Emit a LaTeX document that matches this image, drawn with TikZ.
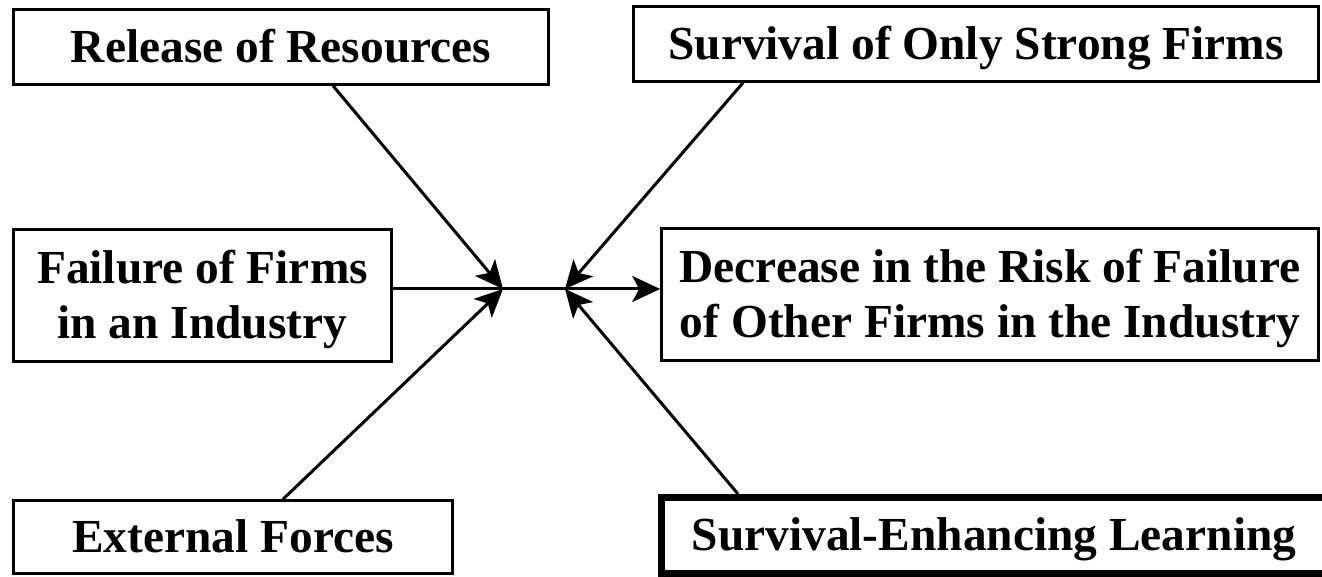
\documentclass[tikz,border=0pt]{standalone}
\usepackage{fontspec}
\setmainfont{Liberation Serif}
\usetikzlibrary{arrows.meta}
\begin{document}
\begin{tikzpicture}[x=1pt,y=1pt,
  box/.style={draw, line width=2.6pt, inner sep=0pt, align=center,
    font=\fontsize{47.4}{55}\selectfont\bfseries},
  oneline/.style={text height=31pt, text depth=0pt},
  twoline/.style={text height=86pt, text depth=0pt},
  conn/.style={line width=3pt},
  arr/.style={conn, -{Stealth[length=28pt,width=26pt,inset=7pt]}}]
\useasboundingbox (0,0) rectangle (1322,577);

\node[box, oneline, minimum width=535pt, minimum height=75pt] (b1) at (281,530) {Release of Resources};
\node[box, oneline, minimum width=685pt, minimum height=75pt] (b2) at (976,533) {Survival of Only Strong Firms};
\node[box, twoline, minimum width=378pt, minimum height=132pt] (b3) at (202.5,281.5) {Failure of Firms\\in an Industry};
\node[box, twoline, minimum width=657pt, minimum height=132pt] (b4) at (990,282.5) {Decrease in the Risk of Failure\\of Other Firms in the Industry};
\node[box, oneline, minimum width=439pt, minimum height=73pt] (b5) at (233,40) {External Forces};
\node[box, oneline, line width=7pt, minimum width=665pt, minimum height=76pt] (b6) at (994,41.5) {Survival-Enhancing Learning};

\coordinate (L) at (503,288);
\coordinate (R) at (565,288);
\coordinate (p1) at (333,0);
\coordinate (p2) at (743,0);
\coordinate (p5) at (283,0);
\coordinate (p6) at (738,0);

\draw[arr] (b1.south -| p1) -- (L);
\draw[arr] (b5.north -| p5) -- (L);
\draw[conn] (b3.east |- L) -- (L);
\draw[arr] (b2.south -| p2) -- (R);
\draw[arr] (b6.north -| p6) -- (R);
\draw[conn] (L) -- (R);
\draw[arr] (R) -- (b4.west |- R);
\end{tikzpicture}
\end{document}
